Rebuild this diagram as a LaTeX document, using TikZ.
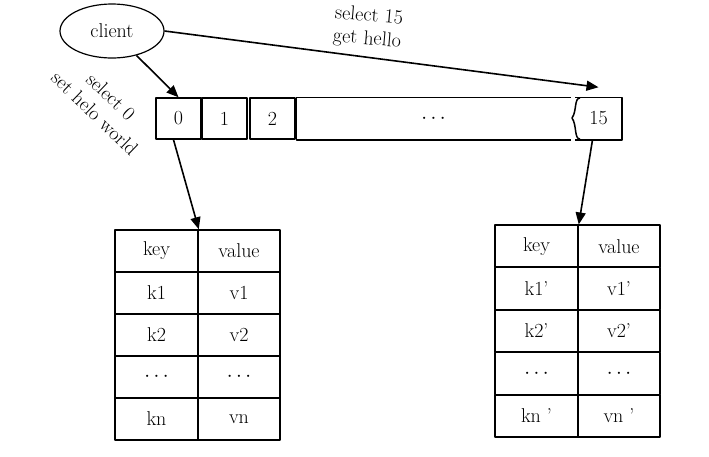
\documentclass[tikz,border=0pt]{standalone}
\usetikzlibrary{arrows.meta,shapes.geometric}
\begin{document}
\begin{tikzpicture}[x=1pt,y=-1pt,line width=1.5pt,line join=round,
  every node/.style={font=\fontsize{20}{23}\selectfont},
  cell/.style={draw,rectangle,inner sep=0pt,minimum height=41pt},
  plain/.style={rectangle,inner sep=0pt,minimum height=41pt},
  tcell/.style={draw,rectangle,inner sep=0pt,minimum height=42pt},
  arr/.style={-{Triangle[length=12pt,width=10pt]},line width=1.6pt}]
\useasboundingbox (0,0) rectangle (709,456);

% client
\node[draw,ellipse,minimum width=104pt,minimum height=54pt,inner sep=0pt,line width=1.2pt] (client) at (112,31) {client};

% db cells
\node[cell,minimum width=45pt] (c0) at (178.5,118.5) {0};
\node[cell,minimum width=45pt] (c1) at (224.5,118.5) {1};
\node[cell,minimum width=45pt] (c2) at (272.5,118.5) {2};
\node[plain,minimum width=273pt] (cd) at (433.5,118.5) {$\cdots$};
\draw (cd.north east) -- (cd.north west) -- (cd.south west) -- (cd.south east);
\node[plain,minimum width=45pt] (c15) at (598.5,118.5) {15};
\draw (c15.north west) -- (c15.north east) -- (c15.south east) -- (c15.south west);
\draw (580,98) .. controls (574,98) and (577,111) .. (572,118)
               .. controls (577,125) and (574,139) .. (580,139);

% labels
\node[rotate=-44,align=center] (l0) at (103,105) {select 0\\set helo world};
\node[rotate=-5,align=center] (l15) at (368,28) {select 15\\get hello};

% left table
\foreach \r/\y/\k/\v in {1/251/key/value,2/293/k1/v1,3/335/k2/v2,4/377/$\cdots$/$\cdots$,5/419/kn/vn}{
  \node[tcell,minimum width=83pt] (L\r k) at (156.5,\y) {\k};
  \node[tcell,minimum width=82pt] (L\r v) at (239,\y) {\v};
}
% right table
\foreach \r/\y/\k/\v in {1/246.2/key/value,2/288.6/k1’/v1’,3/331/k2’/v2’,4/373.4/$\cdots$/$\cdots$,5/415.8/kn ’/vn ’}{
  \node[tcell,minimum width=83pt] (R\r k) at (536.5,\y) {\k};
  \node[tcell,minimum width=82pt] (R\r v) at (619,\y) {\v};
}

% arrows
\draw[arr] (client) -- (c0.north);
\draw[arr] (client.east) -- ([yshift=10pt]c15.north);
\draw[arr] ([xshift=-5pt]c0.south) -- (L1k.north east);
\draw[arr] ([xshift=-6pt]c15.south) -- (R1k.north east);
\end{tikzpicture}
\end{document}
